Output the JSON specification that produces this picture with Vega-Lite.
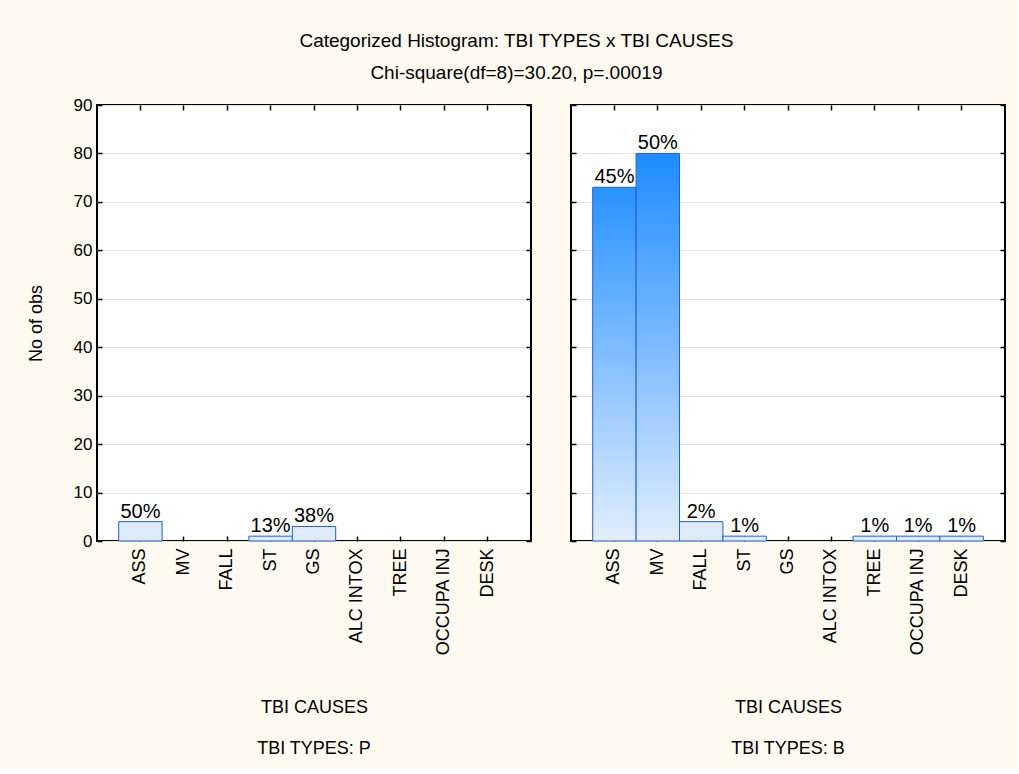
{
  "$schema": "https://vega.github.io/schema/vega-lite/v6.json",
  "background": "#FFFAEF",
  "padding": {"left": 26, "top": 32, "right": 10, "bottom": 10},
  "title": {
    "text": "Categorized Histogram: TBI TYPES x TBI CAUSES",
    "subtitle": "Chi-square(df=8)=30.20, p=.00019",
    "anchor": "middle",
    "font": "Liberation Sans",
    "fontSize": 19,
    "fontWeight": "normal",
    "color": "#000000",
    "subtitleFont": "Liberation Sans",
    "subtitleFontSize": 19,
    "subtitleColor": "#000000",
    "subtitlePadding": 13,
    "offset": 12
  },
  "data": {
    "values": [
      {"type": "P", "cause": "ASS", "count": 4, "pct": "50%"},
      {"type": "P", "cause": "ST", "count": 1, "pct": "13%"},
      {"type": "P", "cause": "GS", "count": 3, "pct": "38%"},
      {"type": "B", "cause": "ASS", "count": 73, "pct": "45%"},
      {"type": "B", "cause": "MV", "count": 80, "pct": "50%"},
      {"type": "B", "cause": "FALL", "count": 4, "pct": "2%"},
      {"type": "B", "cause": "ST", "count": 1, "pct": "1%"},
      {"type": "B", "cause": "TREE", "count": 1, "pct": "1%"},
      {"type": "B", "cause": "OCCUPA INJ", "count": 1, "pct": "1%"},
      {"type": "B", "cause": "DESK", "count": 1, "pct": "1%"}
    ]
  },
  "spacing": 36,
  "hconcat": [
    {
      "width": 434,
      "height": 436,
      "transform": [{"filter": "datum.type === 'P'"}],
      "title": {"text": "TBI TYPES: P", "orient": "bottom", "font": "Liberation Sans", "fontSize": 18, "fontWeight": "normal", "color": "#000000", "offset": 23},
      "layer": [
        {
          "mark": {"type": "bar", "stroke": "#1F5FD9", "strokeWidth": 1, "fill": "#DDEBFC"},
          "encoding": {
            "x": {
              "field": "cause", "type": "nominal", "sort": null,
              "scale": {"domain": ["ASS", "MV", "FALL", "ST", "GS", "ALC INTOX", "TREE", "OCCUPA INJ", "DESK"], "paddingInner": 0, "paddingOuter": 0.5},
              "axis": {"title": "TBI CAUSES", "labelAngle": -90, "titlePadding": 43, "labelPadding": 12, "labelFontSize": 18}
            },
            "y": {
              "field": "count", "type": "quantitative",
              "scale": {"domain": [0, 90], "nice": false},
              "axis": {"title": "No of obs", "values": [0, 10, 20, 30, 40, 50, 60, 70, 80, 90], "grid": true, "titlePadding": 28}
            }
          }
        },
        {
          "mark": {"type": "text", "dy": -4, "baseline": "alphabetic", "font": "Liberation Sans", "fontSize": 20, "color": "#000000"},
          "encoding": {
            "x": {"field": "cause", "type": "nominal", "sort": null, "axis": null},
            "y": {"field": "count", "type": "quantitative", "axis": null},
            "text": {"field": "pct"}
          }
        },
        {
          "mark": {"type": "rule", "opacity": 0},
          "encoding": {
            "x": {"field": "cause", "type": "nominal", "sort": null, "axis": {"orient": "top", "labels": false, "title": null, "grid": false}},
            "y": {"field": "count", "type": "quantitative", "axis": {"orient": "right", "labels": false, "title": null, "grid": false, "values": [0, 10, 20, 30, 40, 50, 60, 70, 80, 90]}}
          }
        }
      ],
      "resolve": {"axis": {"x": "independent", "y": "independent"}}
    },
    {
      "width": 434,
      "height": 436,
      "transform": [{"filter": "datum.type === 'B'"}],
      "title": {"text": "TBI TYPES: B", "orient": "bottom", "font": "Liberation Sans", "fontSize": 18, "fontWeight": "normal", "color": "#000000", "offset": 23},
      "layer": [
        {
          "mark": {"type": "bar", "stroke": "#1F5FD9", "strokeWidth": 1},
          "encoding": {
            "x": {
              "field": "cause", "type": "nominal", "sort": null,
              "scale": {"domain": ["ASS", "MV", "FALL", "ST", "GS", "ALC INTOX", "TREE", "OCCUPA INJ", "DESK"], "paddingInner": 0, "paddingOuter": 0.5},
              "axis": {"title": "TBI CAUSES", "labelAngle": -90, "titlePadding": 43, "labelPadding": 12, "labelFontSize": 18}
            },
            "y": {
              "field": "count", "type": "quantitative",
              "scale": {"domain": [0, 90], "nice": false},
              "axis": {"title": null, "labels": false, "values": [0, 10, 20, 30, 40, 50, 60, 70, 80, 90], "grid": true}
            },
            "color": {
              "condition": [
                {"test": "datum.count > 76", "value": {"gradient": "linear", "x1": 0, "y1": 0, "x2": 0, "y2": 1, "stops": [{"offset": 0, "color": "#1E8CFF"}, {"offset": 0.5, "color": "#7DBBFF"}, {"offset": 1, "color": "#E2EEFD"}]}},
                {"test": "datum.count > 40", "value": {"gradient": "linear", "x1": 0, "y1": 0, "x2": 0, "y2": 1, "stops": [{"offset": 0, "color": "#2993FF"}, {"offset": 0.5, "color": "#86C0FF"}, {"offset": 1, "color": "#E2EEFD"}]}}
              ],
              "value": "#DDEBFC"
            }
          }
        },
        {
          "mark": {"type": "text", "dy": -4, "baseline": "alphabetic", "font": "Liberation Sans", "fontSize": 20, "color": "#000000"},
          "encoding": {
            "x": {"field": "cause", "type": "nominal", "sort": null, "axis": null},
            "y": {"field": "count", "type": "quantitative", "axis": null},
            "text": {"field": "pct"}
          }
        },
        {
          "mark": {"type": "rule", "opacity": 0},
          "encoding": {
            "x": {"field": "cause", "type": "nominal", "sort": null, "axis": {"orient": "top", "labels": false, "title": null, "grid": false}},
            "y": {"field": "count", "type": "quantitative", "axis": {"orient": "right", "labels": false, "title": null, "grid": false, "values": [0, 10, 20, 30, 40, 50, 60, 70, 80, 90]}}
          }
        }
      ],
      "resolve": {"axis": {"x": "independent", "y": "independent"}}
    }
  ],
  "config": {
    "view": {"fill": "#FFFFFF", "stroke": "#000000", "strokeWidth": 2},
    "font": "Liberation Sans",
    "axis": {
      "labelFont": "Liberation Sans",
      "labelFontSize": 17,
      "labelColor": "#000000",
      "titleFont": "Liberation Sans",
      "titleFontSize": 18,
      "titleFontWeight": "normal",
      "titleColor": "#000000",
      "domain": false,
      "tickColor": "#000000",
      "tickSize": -5,
      "tickWidth": 1.5,
      "labelPadding": 10,
      "gridColor": "#E3E3E3",
      "gridWidth": 1
    },
    "text": {"font": "Liberation Sans"}
  }
}
